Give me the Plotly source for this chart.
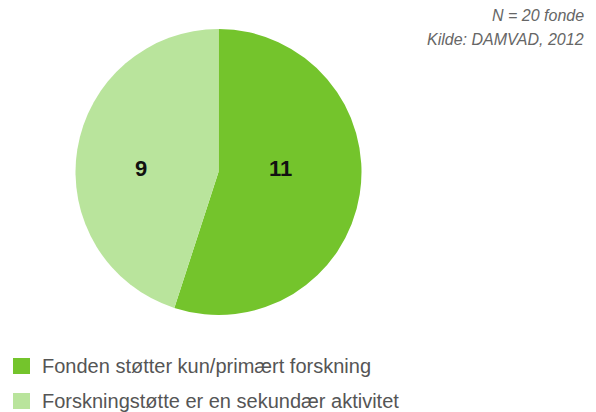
import plotly.graph_objects as go

labels = ["Fonden støtter kun/primært forskning", "Forskningstøtte er en sekundær aktivitet"]
values = [11, 9]
colors = ["#74c42c", "#b9e49c"]
note_lines = ["N = 20 fonde", "Kilde: DAMVAD, 2012"]

W, H = 596, 412

fig = go.Figure()
fig.add_trace(go.Pie(
    labels=labels,
    values=values,
    marker=dict(colors=colors, line=dict(width=0)),
    sort=False,
    direction="clockwise",
    rotation=0,
    textinfo="none",
    domain=dict(x=[75 / W, 362 / W], y=[1 - 315 / H, 1 - 29 / H]),
    showlegend=False,
    hoverinfo="label+value",
))

# value labels inside slices
for v, xx in zip(values, [280, 141]):
    fig.add_annotation(text=str(v), xref="paper", yref="paper", x=xx / W, y=1 - 168 / H,
                       xanchor="center", yanchor="middle", showarrow=False,
                       font=dict(family="Liberation Sans", size=22, color="#111111", weight="bold"))

# manual legend
leg_y = [366, 401]
for lab, col, yy in zip(labels, colors, leg_y):
    fig.add_shape(type="rect", xref="paper", yref="paper",
                  x0=13 / W, x1=30 / W, y0=1 - (yy + 8) / H, y1=1 - (yy - 8) / H,
                  fillcolor=col, line=dict(width=0))
    fig.add_annotation(text=lab, xref="paper", yref="paper", x=40 / W, y=1 - yy / H,
                       xanchor="left", yanchor="middle", showarrow=False,
                       font=dict(family="Liberation Sans", size=20, color="#555555"))

for txt, yy in zip(note_lines, [16, 40]):
    fig.add_annotation(text="<i>" + txt + "</i>", xref="paper", yref="paper",
                       x=586 / W, y=1 - yy / H, xanchor="right", yanchor="middle",
                       showarrow=False,
                       font=dict(family="Liberation Sans", size=16, color="#666666"))

fig.update_layout(width=W, height=H, margin=dict(l=0, r=0, t=0, b=0),
                  paper_bgcolor="white", plot_bgcolor="white")
fig.write_html("out.html", config={"displayModeBar": False},
               post_script="document.body.style.margin='0';document.body.style.overflow='hidden';")
